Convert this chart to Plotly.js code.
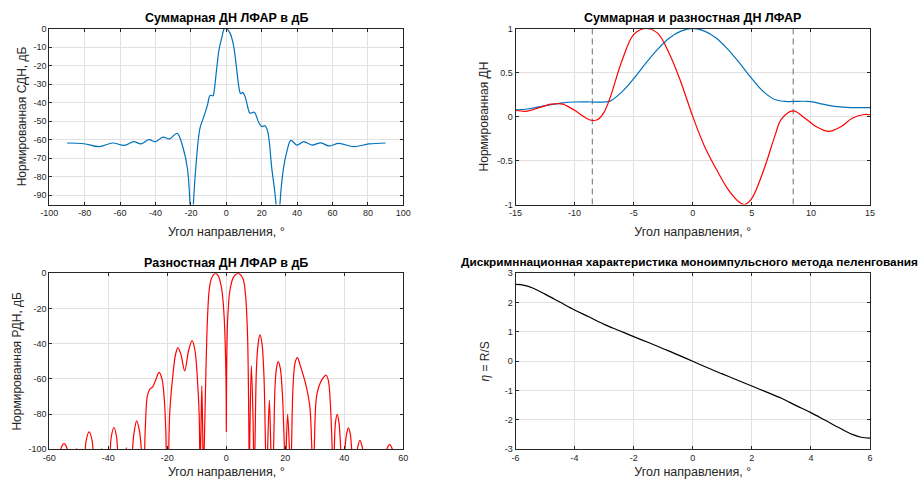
<!DOCTYPE html>
<html>
<head>
<meta charset="utf-8">
<script src="https://cdn.plot.ly/plotly-3.0.1.min.js"></script>
<style>html,body{margin:0;padding:0;background:#fff;}#chart{width:923px;height:479px;}</style>
</head>
<body>
<div id="chart"></div>
<script>
// ---- Subplot 1: sum pattern, dB ----
const sumDbAngle = [-90,-80.4,-71.8,-64.2,-57.6,-52.3,-48.1,-43.8,-40,-35.8,-32,-27.8,-24.4,-22,-20.5,-19.5,-18.6,-16.8,-14.9,-13.0,-10.6,-9.2,-7.5,-6.9,-5.4,-4.1,-2.6,-1.1,0,2.1,4.0,5.8,7.2,8.1,9.2,10.6,12.5,13.4,15.8,18.1,20.0,21.9,23.4,25.7,28.1,29.2,30.3,32.3,34.2,36.5,39.9,43.7,48.4,53.5,57.9,63.6,72.1,80.6,90];
const sumDbValue = [-61.8,-62.2,-63.8,-61.8,-63.1,-61.1,-62.3,-60,-61.1,-58.6,-59.6,-56.6,-64.5,-75.3,-95,-130,-95,-70,-53.9,-48.4,-41.2,-36.1,-36.3,-34,-21.4,-11.4,-5.1,-0.1,0,-2.5,-8.7,-21.4,-32.2,-35.2,-34.5,-36.7,-43.9,-45.7,-45.2,-50.2,-52.9,-52.5,-55.6,-75.5,-95,-130,-95,-75.5,-66.5,-60.4,-62.9,-61.1,-62.9,-61.7,-63.4,-62,-63.8,-62.3,-61.8];

// ---- Subplot 2: normalized sum and difference patterns ----
const sumAngle = [-15,-14,-13,-12,-11,-10,-9,-8,-7,-6,-5,-4,-3,-2,-1,0,1,2,3,4,5,6,7,8,9,10,11,12,13,14,15];
const sumValue = [0.076,0.085,0.11,0.135,0.155,0.165,0.167,0.163,0.175,0.28,0.43,0.6,0.76,0.89,0.97,1,0.97,0.89,0.76,0.6,0.43,0.28,0.19,0.17,0.173,0.17,0.14,0.115,0.103,0.1,0.1];
const diffAngle = [-15,-14,-13,-12,-11.5,-11,-10,-9,-8.5,-8,-7.5,-7,-6,-5,-4,-3,-2,-1,0,1,2,3,4,4.4,5,6,7,7.5,8.5,9.5,10.5,11.5,12.5,13.5,14.5,15];
const diffValue = [0.068,0.06,0.1,0.14,0.145,0.14,0.07,-0.02,-0.045,-0.03,0.05,0.21,0.63,0.93,1.0,0.95,0.72,0.39,0.0,-0.34,-0.6,-0.83,-0.98,-1.0,-0.93,-0.61,-0.2,-0.03,0.064,-0.02,-0.12,-0.17,-0.12,-0.02,0.023,0.02];
const markerAngles = [-8.5, 8.5];

// ---- Subplot 3: difference pattern, dB ----
const diffDbAngle = [-60,-56.3,-55.6,-55.0,-54.4,-53.8,-52.5,-50.7,-49,-48.0,-47.5,-46.5,-45.5,-45.0,-43.5,-42.2,-41,-39.5,-39.0,-38.1,-37.2,-36.7,-35.3,-33.9,-32.8,-32.0,-31.3,-30.4,-29.5,-28.8,-28.4,-27.9,-27.5,-26.8,-26.0,-24.9,-23.8,-22.8,-21.8,-21.0,-20.5,-20.1,-19.7,-19.2,-18.1,-17.2,-16.4,-15.4,-14.1,-12.8,-11.6,-10.6,-9.8,-9.2,-8.9,-8.6,-8.3,-8.0,-7.8,-7.5,-6.9,-6.4,-5.8,-5.0,-3.7,-2.7,-1.6,-0.8,-0.1,0,0.1,0.45,1.25,2.4,4.0,5.6,6.5,7.2,7.6,7.8,8.0,8.5,9.1,9.4,9.7,10.2,10.8,11.4,12.1,12.8,13.3,13.6,14.0,14.6,15.1,15.4,16.0,16.5,17.0,17.6,18.3,19.0,19.7,20.0,20.3,20.8,21.4,21.8,22.1,22.6,23.3,24.1,25.0,26.7,27.8,28.4,29.0,29.4,29.8,30.3,30.8,31.8,33.0,33.8,34.6,35.3,35.9,36.2,36.6,37.0,37.6,38.2,38.8,39.5,40.2,40.8,41.4,42.0,42.5,43.4,44.4,45.3,46.3,50,54.4,55.3,56.3,58,60];
const diffDbValue = [-125,-101,-97.8,-96.8,-97.8,-101,-125,-99.6,-125,-105,-95,-90.1,-95,-105,-125,-99.6,-125,-105,-93,-87.6,-93,-105,-125,-99,-125,-105,-91,-83.8,-89,-100,-115,-110,-90,-70,-66,-64.4,-60,-56.3,-60,-72,-90,-115,-110,-80,-57.8,-46,-42.2,-46,-55.5,-44,-38.2,-44,-60,-80,-110,-90,-64,-90,-115,-100,-55,-26.5,-9.5,-2.8,0,-1.5,-8.5,-22.7,-60,-90,-60,-26.5,-9.5,-2.3,0,-2.8,-12,-35,-80,-115,-90,-52.5,-85,-120,-100,-55,-40,-35,-40,-60,-100,-120,-100,-72,-100,-120,-100,-65,-54,-50.2,-54,-68,-100,-120,-100,-80,-100,-120,-100,-65,-51,-47.9,-52,-61.6,-70,-77,-100,-120,-100,-75,-68,-62.5,-59,-57.8,-61,-75,-100,-120,-100,-85,-80.2,-85,-100,-120,-100,-91,-87.8,-91,-100,-120,-100,-94.9,-100,-125,-100,-97.3,-100,-125,-125];

// ---- Subplot 4: discrimination characteristic ----
const discAngle = [-6,-5.7,-5.4,-5,-4.5,-4,-3.5,-3,-2.5,-2,-1.5,-1,-0.5,0,0.5,1,1.5,2,2.5,3,3.5,4,4.5,5,5.4,5.7,6];
const discValue = [2.62,2.59,2.49,2.29,2.02,1.75,1.51,1.26,1.05,0.84,0.64,0.43,0.22,0,-0.22,-0.43,-0.64,-0.84,-1.05,-1.26,-1.51,-1.75,-2.02,-2.29,-2.49,-2.59,-2.62];

// ---- Tick labels ----
const x1Ticks = [-100,-80,-60,-40,-20,0,20,40,60,80,100];
const y1Ticks = [-90,-80,-70,-60,-50,-40,-30,-20,-10,0];
const x2Ticks = [-15,-10,-5,0,5,10,15];
const y2Ticks = [-1,-0.5,0,0.5,1];
const x3Ticks = [-60,-40,-20,0,20,40,60];
const y3Ticks = [-100,-80,-60,-40,-20,0];
const x4Ticks = [-6,-4,-2,0,2,4,6];
const y4Ticks = [-3,-2,-1,0,1,2,3];

const titles = ['Суммарная ДН ЛФАР в дБ','Суммарная и разностная ДН ЛФАР','Разностная ДН ЛФАР в дБ','Дискримннационная характеристика моноимпульсного метода пеленгования'];
const xTitle = 'Угол направления, °';
const yTitles = ['Нормированная СДН, дБ','Нормированная ДН','Нормированная РДН, дБ','<i>η</i> = R/S'];

const FONT = 'Liberation Sans, Arial, Helvetica, sans-serif';
const lbl = v => String(v);
const W = 923, H = 479;
const px = v => v / W, py = v => 1 - v / H;

function axis(ticks, range, dom, anchor, title, standoff, tsize) {
  return {
    domain: dom, anchor: anchor, range: range,
    tickmode: 'array', tickvals: ticks, ticktext: ticks.map(lbl),
    ticks: 'inside', ticklen: 3, tickwidth: 1, tickcolor: '#262626',
    showline: true, linecolor: '#262626', linewidth: 1, mirror: 'ticks',
    showgrid: true, gridcolor: '#e1e1e1', gridwidth: 1, zeroline: false,
    tickfont: {family: FONT, size: 9, color: '#262626'},
    title: {text: title, font: {family: FONT, size: tsize, color: '#262626'}, standoff: standoff},
    automargin: false, fixedrange: true
  };
}

const xDomL = [px(49.3), px(403.3)], xDomR = [px(515.5), px(870)];
const yDomT = [py(204.5), py(28.5)], yDomB = [py(449.3), py(273.3)];

const blue = '#0072BD', red = '#FF0000';
const traces = [
  {x: sumDbAngle, y: sumDbValue, xaxis: 'x', yaxis: 'y', mode: 'lines', line: {color: blue, width: 1.2, shape: 'spline', smoothing: 1}},
  {x: markerAngles.map(a=>[a,a,null]).flat(), y: markerAngles.map(()=>[-1,1,null]).flat(), xaxis: 'x2', yaxis: 'y2', mode: 'lines', line: {color: '#6e6e6e', width: 1, dash: '6px,4px'}},
  {x: sumAngle, y: sumValue, xaxis: 'x2', yaxis: 'y2', mode: 'lines', line: {color: blue, width: 1.2, shape: 'spline', smoothing: 1}},
  {x: diffAngle, y: diffValue, xaxis: 'x2', yaxis: 'y2', mode: 'lines', line: {color: red, width: 1.2, shape: 'spline', smoothing: 1}},
  {x: diffDbAngle, y: diffDbValue, xaxis: 'x3', yaxis: 'y3', mode: 'lines', line: {color: red, width: 1.2, shape: 'spline', smoothing: 0.9}},
  {x: discAngle, y: discValue, xaxis: 'x4', yaxis: 'y4', mode: 'lines', line: {color: '#000000', width: 1.2, shape: 'spline', smoothing: 1}}
];

const ann = (text, xc, yc, size) => ({text: '<b>' + text + '</b>', xref: 'paper', yref: 'paper', x: px(xc), y: py(yc), xanchor: 'center', yanchor: 'middle', showarrow: false, font: {family: FONT, size: size, color: '#000'}});

const layout = {
  width: W, height: H, margin: {l: 0, r: 0, t: 0, b: 0},
  paper_bgcolor: '#fff', plot_bgcolor: '#fff', showlegend: false,
  font: {family: FONT},
  xaxis: axis(x1Ticks, [-100, 100], xDomL, 'y', xTitle, 9, 12.5),
  yaxis: axis(y1Ticks, [-95, 0], yDomT, 'x', yTitles[0], 4, 12),
  xaxis2: axis(x2Ticks, [-15, 15], xDomR, 'y2', xTitle, 9, 12.5),
  yaxis2: axis(y2Ticks, [-1, 1], yDomT, 'x2', yTitles[1], 5, 12),
  xaxis3: axis(x3Ticks, [-60, 60], xDomL, 'y3', xTitle, 13, 12.5),
  yaxis3: axis(y3Ticks, [-100, 0], yDomB, 'x3', yTitles[2], 4, 12),
  xaxis4: axis(x4Ticks, [-6, 6], xDomR, 'y4', xTitle, 13, 12.5),
  yaxis4: axis(y4Ticks, [-3, 3], yDomB, 'x4', yTitles[3], 12, 12),
  annotations: [
    ann(titles[0], 226.3, 18, 12.5),
    ann(titles[1], 692.7, 18, 12.5),
    ann(titles[2], 226.3, 263, 12.5),
    ann(titles[3], 689, 261.5, 11.8)
  ]
};

Plotly.newPlot('chart', traces, layout, {staticPlot: true, displayModeBar: false});
</script>
</body>
</html>
